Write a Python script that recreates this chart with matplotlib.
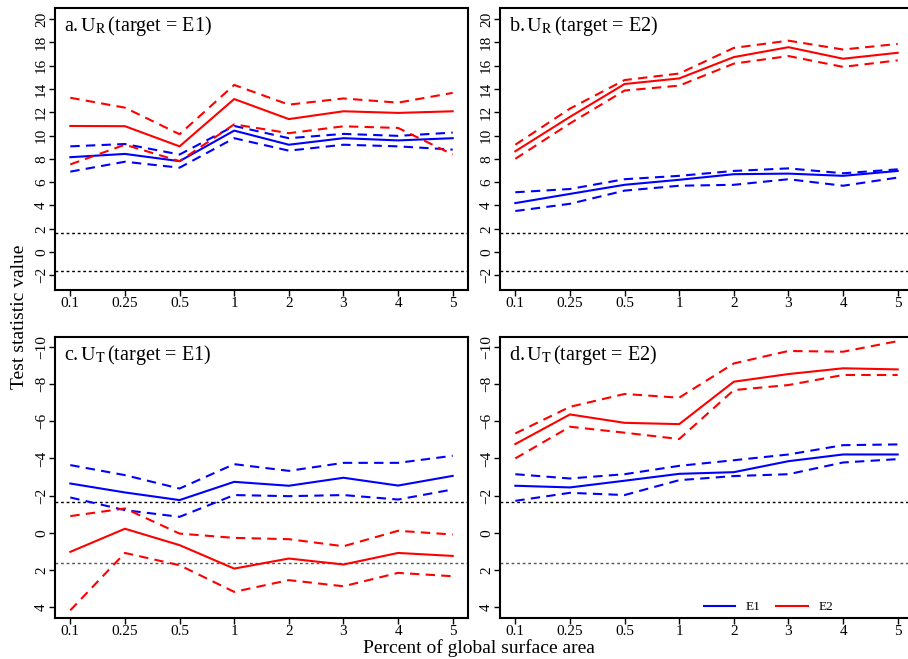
import numpy as np
from matplotlib import pyplot as plt

plt.rcParams['font.family'] = ['Liberation Serif', 'DejaVu Serif']
plt.rcParams['mathtext.fontset'] = 'stix'

# x categories (percent of global surface area)
pct_labels = ["0.1", "0.25", "0.5", "1", "2", "3", "4", "5"]

# panel a: U_R, target = E1
a_e1 = [8.14, 8.42, 7.80, 10.42, 9.21, 9.77, 9.58, 9.77]
a_e1_hi = [9.07, 9.27, 8.37, 10.82, 9.77, 10.14, 9.97, 10.25]
a_e1_lo = [6.90, 7.75, 7.24, 9.77, 8.70, 9.21, 9.07, 8.79]
a_e2 = [10.82, 10.80, 9.07, 13.13, 11.41, 12.08, 11.94, 12.08]
a_e2_hi = [13.24, 12.39, 10.11, 14.34, 12.65, 13.18, 12.82, 13.66]
a_e2_lo = [7.52, 9.21, 7.80, 10.96, 10.20, 10.79, 10.65, 8.37]

# panel b: U_R, target = E2
b_e1 = [4.20, 4.99, 5.77, 6.20, 6.68, 6.73, 6.54, 6.96]
b_e1_hi = [5.13, 5.41, 6.25, 6.54, 6.96, 7.18, 6.76, 7.10]
b_e1_lo = [3.52, 4.14, 5.27, 5.69, 5.77, 6.25, 5.69, 6.39]
b_e2 = [8.65, 11.60, 14.42, 14.90, 16.73, 17.58, 16.59, 17.10]
b_e2_hi = [9.21, 12.31, 14.76, 15.32, 17.52, 18.14, 17.38, 17.86]
b_e2_lo = [8.00, 11.04, 13.86, 14.28, 16.17, 16.82, 15.89, 16.45]

# panel c: U_T, target = E1
c_e1 = [-2.65, -2.17, -1.76, -2.74, -2.53, -2.96, -2.54, -3.06]
c_e1_hi = [-3.64, -3.10, -2.38, -3.69, -3.33, -3.76, -3.76, -4.14]
c_e1_lo = [-1.90, -1.22, -0.86, -2.03, -1.97, -2.03, -1.79, -2.33]
c_e2 = [1.02, -0.22, 0.66, 1.92, 1.38, 1.70, 1.08, 1.24]
c_e2_hi = [-0.90, -1.31, 0.04, 0.27, 0.34, 0.72, -0.11, 0.09]
c_e2_lo = [4.16, 1.08, 1.74, 3.17, 2.54, 2.87, 2.15, 2.33]

# panel d: U_T, target = E2
d_e1 = [-2.53, -2.44, -2.80, -3.17, -3.26, -3.85, -4.21, -4.21]
d_e1_hi = [-3.15, -2.92, -3.15, -3.60, -3.90, -4.21, -4.71, -4.75]
d_e1_lo = [-1.72, -2.15, -2.03, -2.83, -3.05, -3.15, -3.78, -3.96]
d_e2 = [-4.77, -6.36, -5.91, -5.84, -8.12, -8.53, -8.84, -8.78]
d_e2_hi = [-5.34, -6.77, -7.46, -7.26, -9.10, -9.77, -9.73, -10.30]
d_e2_lo = [-4.00, -5.70, -5.38, -5.04, -7.67, -7.94, -8.48, -8.48]

crit = 1.645  # one-sided 5% threshold

BLUE = '#0000ff'
RED = '#ff0000'

panels = [
    # (position, title letter, stat, target, series, ylim, yticks)
    ([0.0606, 0.5599, 0.4548, 0.4279], "a.", "R", "E1",
     (a_e1, a_e1_hi, a_e1_lo, a_e2, a_e2_hi, a_e2_lo), (-3.26, 20.94), range(-2, 21, 2)),
    ([0.5507, 0.5599, 0.4548, 0.4279], "b.", "R", "E2",
     (b_e1, b_e1_hi, b_e1_lo, b_e2, b_e2_hi, b_e2_lo), (-3.26, 20.94), range(-2, 21, 2)),
    ([0.0606, 0.0622, 0.4548, 0.4264], "c.", "T", "E1",
     (c_e1, c_e1_hi, c_e1_lo, c_e2, c_e2_hi, c_e2_lo), (4.575, -10.52), range(-10, 5, 2)),
    ([0.5507, 0.0622, 0.4548, 0.4264], "d.", "T", "E2",
     (d_e1, d_e1_hi, d_e1_lo, d_e2, d_e2_hi, d_e2_lo), (4.575, -10.52), range(-10, 5, 2)),
]

fig = plt.figure(figsize=(9.08, 6.59), dpi=100)
x = np.arange(len(pct_labels))
dash = (0, (4.5, 3))

axes = []
for pos, letter, stat, target, series, ylim, yticks in panels:
    ax = fig.add_axes(pos)
    e1, e1_hi, e1_lo, e2, e2_hi, e2_lo = series
    # thresholds (the one drawn below in the U_T panels is grey)
    plus_col = 'black' if stat == "R" else '#555555'
    ax.axhline(crit, color=plus_col, lw=1, ls=(0, (2, 2)))
    ax.axhline(-crit, color='black', lw=1, ls=(0, (2, 2)))
    ax.plot(x, e1, color=BLUE, lw=1.5, label="E1")
    ax.plot(x, e1_hi, color=BLUE, lw=1.5, ls=dash)
    ax.plot(x, e1_lo, color=BLUE, lw=1.5, ls=dash)
    ax.plot(x, e2, color=RED, lw=1.5, label="E2")
    ax.plot(x, e2_hi, color=RED, lw=1.5, ls=dash)
    ax.plot(x, e2_lo, color=RED, lw=1.5, ls=dash)

    ax.set_xlim(-0.28, 7.28)
    ax.set_ylim(*ylim)
    ax.set_xticks(x)
    ax.set_xticklabels(pct_labels)
    ax.set_yticks(list(yticks))
    ax.tick_params(axis='both', direction='out', length=4, width=1, labelsize=11, pad=1)
    for lab in ax.get_yticklabels():
        lab.set_rotation(90)
        lab.set_va('center')
    for sp in ax.spines.values():
        sp.set_linewidth(1.5)
    ax.text(0.022, 0.978, letter + r"$\,\mathrm{U_%s}\,$(target = %s)" % (stat, target),
            transform=ax.transAxes, ha='left', va='top', fontsize=14.5)
    axes.append(ax)

axes[3].legend(loc='lower center', bbox_to_anchor=(0.65, -0.025), ncol=2, frameon=False,
               fontsize=9.5, handlelength=2.4, columnspacing=1.2, handletextpad=0.8)

fig.text(0.022, 0.52, "Test statistic value", rotation=90, ha='center', va='center', fontsize=14)
fig.text(0.528, 0.016, "Percent of global surface area", ha='center', va='center', fontsize=14)

fig.savefig("out.png", dpi=100)
